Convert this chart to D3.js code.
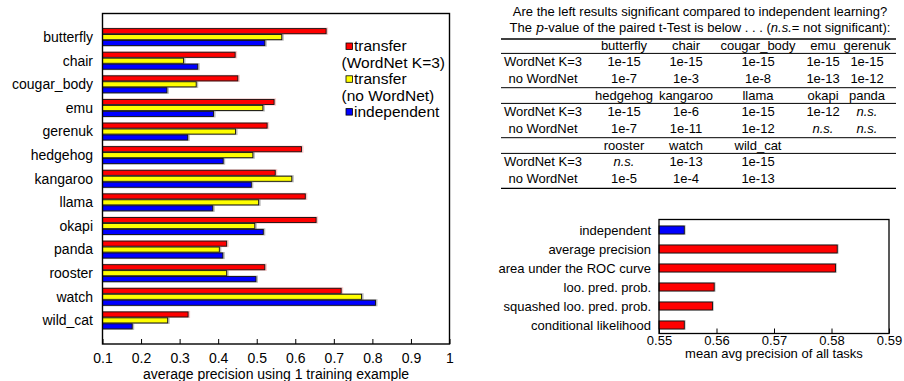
<!DOCTYPE html>
<html>
<head>
<meta charset="utf-8">
<script src="https://cdn.jsdelivr.net/npm/d3@7"></script>
<style>
  body { margin: 0; background: #fff; }
  svg { display: block; font-family: 'Liberation Sans', Arial, sans-serif; }
</style>
</head>
<body>
<svg id="idChart" width="904" height="381"></svg>
<script>
// data
const categories = ['butterfly', 'chair', 'cougar_body', 'emu', 'gerenuk', 'hedgehog', 'kangaroo',
  'llama', 'okapi', 'panda', 'rooster', 'watch', 'wild_cat'];
const transferWordNet = [0.680, 0.444, 0.451, 0.545, 0.527, 0.616, 0.548, 0.626, 0.654, 0.422, 0.521, 0.719, 0.322];
const transferNoWordNet = [0.565, 0.310, 0.343, 0.516, 0.445, 0.490, 0.591, 0.505, 0.495, 0.403, 0.422, 0.772, 0.269];
const independent = [0.521, 0.347, 0.267, 0.388, 0.321, 0.413, 0.486, 0.386, 0.517, 0.412, 0.498, 0.808, 0.177];
const seriesNames = ['transfer\n(WordNet K=3)', 'transfer\n(no WordNet)', 'independent'];
const seriesColors = ['#ff0000', '#ffff00', '#0000ff'];

const tableTitle = 'Are the left results significant compared to independent learning?';
const rowNames = ['WordNet K=3', 'no WordNet'];
const pHeaders = [
  ['butterfly', 'chair', 'cougar_body', 'emu', 'gerenuk'],
  ['hedgehog', 'kangaroo', 'llama', 'okapi', 'panda'],
  ['rooster', 'watch', 'wild_cat']
];
const pWordNet = [
  ['1e-15', '1e-15', '1e-15', '1e-15', '1e-15'],
  ['1e-15', '1e-6', '1e-15', '1e-12', 'n.s.'],
  ['n.s.', '1e-13', '1e-15']
];
const pNoWordNet = [
  ['1e-7', '1e-3', '1e-8', '1e-13', '1e-12'],
  ['1e-7', '1e-11', '1e-12', 'n.s.', 'n.s.'],
  ['1e-5', '1e-4', '1e-13']
];

const measureLabels = ['independent', 'average precision', 'area under the ROC curve',
  'loo. pred. prob.', 'squashed loo. pred. prob.', 'conditional likelihood'];
const measureValues = [0.5544, 0.5810, 0.5807, 0.5596, 0.5593, 0.5544];

const svg = d3.select('#idChart');

/// ---------- left grouped bar chart ----------
const left = { x0: 102.5, x1: 449.5, y0: 13.5, y1: 344 };
const xL = d3.scaleLinear().domain([0.1, 1]).range([left.x0, left.x1]);
// categories sit at 1..13 with a half-empty slot at each end
const yL = d3.scaleLinear().domain([0, 14]).range([left.y0, left.y1]);
const groupH = 17;
const sub = d3.scaleBand().domain([0, 1, 2]).range([-groupH / 2, groupH / 2]).paddingInner(0.14);

const allSeries = [transferWordNet, transferNoWordNet, independent];
const gL = svg.append('g');

allSeries.forEach((vals, s) => {
  const g = gL.append('g');
  // soft halo behind each bar
  g.selectAll('rect.halo')
    .data(vals)
    .join('rect')
    .attr('class', 'halo')
    .attr('x', left.x0)
    .attr('y', (d, i) => yL(i + 1) + sub(s) - 1)
    .attr('width', d => xL(d) - left.x0 + 2)
    .attr('height', sub.bandwidth() + 2)
    .attr('fill', s === 0 ? '#f08080' : '#666')
    .attr('opacity', 0.45);
  g.selectAll('rect.bar')
    .data(vals)
    .join('rect')
    .attr('class', 'bar')
    .attr('x', left.x0)
    .attr('y', (d, i) => yL(i + 1) + sub(s))
    .attr('width', d => xL(d) - left.x0)
    .attr('height', sub.bandwidth())
    .attr('fill', seriesColors[s])
    .attr('stroke', '#111')
    .attr('stroke-width', 0.9);
});

gL.append('rect')
  .attr('x', left.x0).attr('y', left.y0)
  .attr('width', left.x1 - left.x0).attr('height', left.y1 - left.y0)
  .attr('fill', 'none').attr('stroke', '#000').attr('stroke-width', 1.4);

gL.append('g')
  .attr('transform', `translate(0,${left.y1})`)
  .call(d3.axisBottom(xL).ticks(10).tickFormat(d3.format('~g')).tickSizeInner(-5).tickSizeOuter(0).tickPadding(9))
  .call(g => g.select('.domain').remove())
  .call(g => g.selectAll('text').attr('font-size', 14).attr('font-family', null).attr('fill', '#000'));

gL.selectAll('text.cat')
  .data(categories)
  .join('text')
  .attr('class', 'cat')
  .attr('x', 93)
  .attr('y', (d, i) => yL(i + 1))
  .attr('dy', '0.35em')
  .attr('text-anchor', 'end')
  .attr('font-size', 14)
  .text(d => d);

gL.append('text')
  .attr('x', (left.x0 + left.x1) / 2)
  .attr('y', 379)
  .attr('text-anchor', 'middle')
  .attr('font-size', 14)
  .text('average precision using 1 training example');

/// legend
const legend = gL.append('g').attr('font-size', 15.5);
let ly = 46;
seriesNames.forEach((name, s) => {
  const lines = name.split('\n');
  legend.append('rect')
    .attr('x', 346).attr('y', ly - 3).attr('width', 6.5).attr('height', 6.5)
    .attr('fill', seriesColors[s]).attr('stroke', '#000').attr('stroke-width', 0.8);
  legend.append('text').attr('x', 354).attr('y', ly).attr('dy', '0.35em').text(lines[0]);
  ly += 16.4;
  if (lines[1]) {
    legend.append('text').attr('x', 341.5).attr('y', ly).attr('dy', '0.35em').text(lines[1]);
    ly += 16.4;
  }
});

/// ---------- p-value table (top right) ----------
const tb = svg.append('g').attr('font-size', 13);
const tableX0 = 501, tableX1 = 896;
const labelX = 543;
const colX = [624, 686, 758, 823, 867];

tb.append('text').attr('x', 700).attr('y', 11).attr('dy', '0.35em')
  .attr('text-anchor', 'middle').text(tableTitle);

const t2 = tb.append('text').attr('x', 700).attr('y', 27).attr('dy', '0.35em').attr('text-anchor', 'middle');
t2.append('tspan').text('The ');
t2.append('tspan').attr('font-family', "'DejaVu Serif', 'Liberation Serif', serif").attr('font-style', 'italic').text('p');
t2.append('tspan').text('-value of the paired t-Test is below . . . (');
t2.append('tspan').attr('font-style', 'italic').text('n.s.');
t2.append('tspan').text('= not significant):');

const rule = (y, w) => tb.append('line')
  .attr('x1', tableX0).attr('x2', tableX1).attr('y1', y).attr('y2', y)
  .attr('stroke', '#000').attr('stroke-width', w);

rule(39, 1.3);
pHeaders.forEach((hdr, b) => {
  const hy = 45.7 + b * 50;
  if (b > 0) rule(hy - 8, 1);
  rule(hy + 7.7, 1);
  tb.selectAll(null).data(hdr).join('text')
    .attr('x', (d, i) => colX[i]).attr('y', hy).attr('dy', '0.35em')
    .attr('text-anchor', 'middle').text(d => d);
  [pWordNet[b], pNoWordNet[b]].forEach((row, r) => {
    const ry = hy + 16 + r * 16.5;
    tb.append('text').attr('x', labelX).attr('y', ry).attr('dy', '0.35em')
      .attr('text-anchor', 'middle').text(rowNames[r]);
    tb.selectAll(null).data(row).join('text')
      .attr('x', (d, i) => colX[i]).attr('y', ry).attr('dy', '0.35em')
      .attr('text-anchor', 'middle')
      .attr('font-style', d => d === 'n.s.' ? 'italic' : null)
      .text(d => d);
  });
});
rule(188.3, 1.3);

/// ---------- mean avg precision chart (bottom right) ----------
const right = { x0: 659, x1: 889, y0: 219.5, y1: 333.5 };
const xR = d3.scaleLinear().domain([0.55, 0.59]).range([right.x0, right.x1]);
const yR = d3.scaleBand().domain(measureLabels).range([right.y0 + 1, right.y1 + 1]).paddingInner(0.58).paddingOuter(0.29);
const gR = svg.append('g');

gR.selectAll('rect.halo')
  .data(measureValues)
  .join('rect')
  .attr('class', 'halo')
  .attr('x', right.x0)
  .attr('y', (d, i) => yR(measureLabels[i]) - 0.8)
  .attr('width', d => xR(d) - right.x0 + 1.5)
  .attr('height', yR.bandwidth() + 1.6)
  .attr('fill', '#888')
  .attr('opacity', 0.45);

gR.selectAll('rect.bar')
  .data(measureValues)
  .join('rect')
  .attr('class', 'bar')
  .attr('x', right.x0)
  .attr('y', (d, i) => yR(measureLabels[i]))
  .attr('width', d => xR(d) - right.x0)
  .attr('height', yR.bandwidth())
  .attr('fill', (d, i) => i === 0 ? '#0000ff' : '#ff0000')
  .attr('stroke', '#111')
  .attr('stroke-width', 0.9);

gR.append('rect')
  .attr('x', right.x0).attr('y', right.y0)
  .attr('width', right.x1 - right.x0).attr('height', right.y1 - right.y0)
  .attr('fill', 'none').attr('stroke', '#000').attr('stroke-width', 1.3);

gR.append('g')
  .attr('transform', `translate(0,${right.y1})`)
  .call(d3.axisBottom(xR).ticks(4).tickFormat(d3.format('.2f')).tickSizeInner(-5).tickSizeOuter(0).tickPadding(2))
  .call(g => g.select('.domain').remove())
  .call(g => g.selectAll('text').attr('font-size', 13).attr('font-family', null).attr('fill', '#000'));

gR.selectAll('text.lab')
  .data(measureLabels)
  .join('text')
  .attr('class', 'lab')
  .attr('x', 651)
  .attr('y', d => yR(d) + yR.bandwidth() / 2)
  .attr('dy', '0.35em')
  .attr('text-anchor', 'end')
  .attr('font-size', 13)
  .text(d => d);

gR.append('text')
  .attr('x', (right.x0 + right.x1) / 2)
  .attr('y', 358)
  .attr('text-anchor', 'middle')
  .attr('font-size', 13)
  .text('mean avg precision of all tasks');
</script>
</body>
</html>
